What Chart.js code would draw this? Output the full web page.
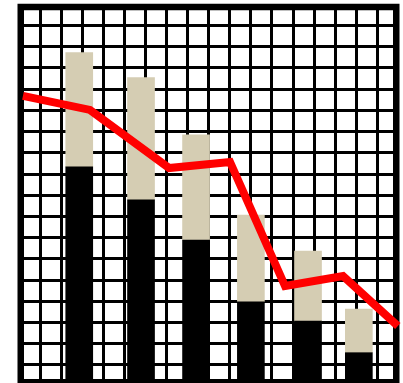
<!DOCTYPE html>
<html>
<head>
<meta charset="utf-8">
<script src="https://cdn.jsdelivr.net/npm/chart.js@4"></script>
<style>
    html, body { margin: 0; padding: 0; background: #fff; overflow: hidden; }
    canvas { display: block; }
</style>
</head>
<body>
<canvas id="chart" width="403" height="383"></canvas>
<script>
// values in grid units (one grid cell = 1)
const barX = [2.62, 5.55, 8.16, 10.76, 13.47, 15.88];
const lowerValues = [10.0, 8.44, 6.55, 3.64, 2.73, 1.24];
const upperValues = [5.38, 5.76, 4.96, 4.09, 3.30, 2.06];

const lineX = [-0.05, 3.13, 6.88, 9.77, 12.38, 15.13, 17.73];
const lineY = [13.34, 12.68, 9.94, 10.23, 4.38, 4.85, 2.50];

const xGrid = [];
for (let k = 0; k <= 16; k++) xGrid.push(0.76 + k);
const yGrid = [];
for (let k = 0; k <= 16; k++) yGrid.push(0.66 + k);

const X_MAX = 17.5;
const Y_MAX = 17.39;

function points(xs, ys) {
    return xs.map((x, i) => ({ x: x, y: ys[i] }));
}

// thick frame round the plot, drawn under the datasets
const framePlugin = {
    id: 'frame',
    beforeDatasetsDraw(chart) {
        const a = chart.chartArea;
        const ctx = chart.ctx;
        ctx.save();
        ctx.strokeStyle = '#000';
        ctx.lineWidth = 6.5;
        ctx.strokeRect(a.left - 3.25, a.top - 3, a.right - a.left + 6.5, a.bottom - a.top + 6.25);
        ctx.restore();
    }
};

const gridScale = (max, ticks) => ({
    type: 'linear',
    min: 0,
    max: max,
    offset: false,
    stacked: true,
    afterBuildTicks: scale => { scale.ticks = ticks.map(v => ({ value: v })); },
    ticks: { display: false },
    border: { display: false },
    grid: { color: '#000', lineWidth: 3, drawTicks: false, offset: false }
});

new Chart(document.getElementById('chart'), {
    type: 'bar',
    data: {
        datasets: [
            {
                type: 'line',
                data: points(lineX, lineY),
                borderColor: '#ff0000',
                borderWidth: 8,
                borderCapStyle: 'butt',
                borderJoinStyle: 'miter',
                pointRadius: 0,
                tension: 0,
                clip: false,
                order: 0
            },
            {
                data: points(barX, lowerValues),
                backgroundColor: '#000000',
                barThickness: 27,
                order: 1
            },
            {
                data: points(barX, upperValues),
                backgroundColor: '#d5cdb3',
                barThickness: 27,
                order: 1
            }
        ]
    },
    options: {
        responsive: false,
        animation: false,
        layout: { padding: { left: 24, top: 10, right: 10, bottom: 4 } },
        plugins: { legend: { display: false }, tooltip: { enabled: false } },
        scales: {
            x: gridScale(X_MAX, xGrid),
            y: gridScale(Y_MAX, yGrid)
        }
    },
    plugins: [framePlugin]
});
</script>
</body>
</html>
